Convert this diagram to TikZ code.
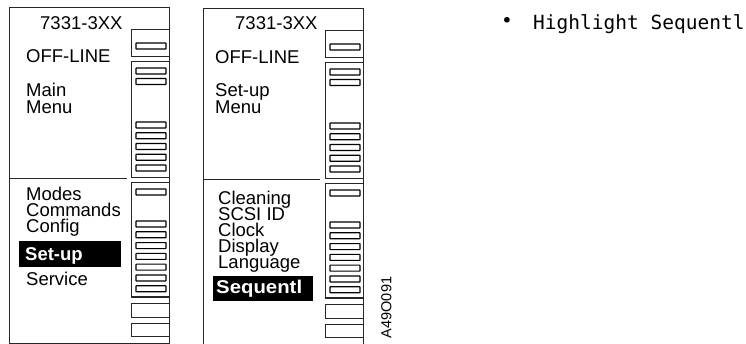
\documentclass[tikz,border=0pt]{standalone}
\usepackage{fontspec}
\setmainfont{Liberation Sans}
\newfontfamily\monofont{DejaVu Sans Mono}
\begin{document}
\begin{tikzpicture}[x=1pt,y=-1pt,
  outer/.style={draw=black!85, line width=1pt},
  frm/.style={draw=black!85, line width=1pt},
  btn/.style={draw=black, line width=1.1pt, rounded corners=0.4pt},
  lbl/.style={font=\fontsize{18.5}{17}\selectfont, anchor=base west, inner sep=0pt, text height=12pt, text depth=2.5pt},
  hl/.style={font=\fontsize{18.5}{17}\selectfont\bfseries, text=white, anchor=base west, inner sep=0pt, text height=12pt, text depth=2.5pt},
  note/.style={font=\monofont\fontsize{19.5}{20}\selectfont, anchor=base west, inner sep=0pt}]
\useasboundingbox (0,0) rectangle (746,344);
\fill[white] (0,0) rectangle (746,344);

% panel hardware (shared by both panels)
\foreach \dx/\dy/\dv in {0/0/127, 194/1/126}{
  \begin{scope}[shift={(\dx,\dy)}]
    \draw[outer] (9,8) rectangle (169,343.5);
    \draw[frm] (131,30) rectangle (169,57);
    \draw[btn] (136,43) rectangle (166,49);
    \draw[frm] (131,62) rectangle (169,178);
    \foreach \y in {68,78.5,122,132.75,143.5,154.25,165}
      \draw[btn] (136,\y) rectangle (166,\y+6);
    \draw[frm] (9,178.5) -- (\dv,178.5);
    \draw[frm] (131,183) rectangle (169,297);
    \foreach \y in {189,221,231.8,242.6,253.4,264.2,275,285.8}
      \draw[btn] (136,\y) rectangle (166,\y+6);
    \draw[frm] (169,303) -- (131,303) -- (131,317) -- (169,317);
    \draw[frm] (169,323) -- (131,323) -- (131,336) -- (169,336);
  \end{scope}
}

% panel 1 texts
\node[lbl] (p1title) at (40,29.5) {7331-3XX};
\node[lbl] (p1off) at (26,62.5) {OFF-LINE};
\node[lbl] (p1main) at (26,96.5) {Main};
\node[lbl] (p1menu) at (26,113.5) {Menu};
\node[lbl] (p1modes) at (26,200.5) {Modes};
\node[lbl] (p1cmds) at (26,216.5) {Commands};
\node[lbl] (p1config) at (26,232.5) {Config};
\fill[black] (19,241) rectangle (121,267);
\node[hl] (p1setup) at (25,260.5) {Set-up};
\node[lbl] (p1service) at (26,285.5) {Service};

% panel 2 texts
\node[lbl] (p2title) at (235,29.5) {7331-3XX};
\node[lbl] (p2off) at (215,63.5) {OFF-LINE};
\node[lbl] (p2setup) at (215,96.5) {Set-up};
\node[lbl] (p2menu) at (215,113.5) {Menu};
\node[lbl] (p2clean) at (218,204.3) {Cleaning};
\node[lbl] (p2scsi) at (218,220.4) {SCSI ID};
\node[lbl] (p2clock) at (218,236.5) {Clock};
\node[lbl] (p2disp) at (218,252.6) {Display};
\node[lbl] (p2lang) at (218,268.7) {Language};
\fill[black] (213,276) rectangle (313,301);
\node[hl, xscale=1.1] (p2seq) at (216,293.3) {Sequentl};

% figure id
\node[font=\fontsize{14.5}{15}\selectfont, rotate=90, inner sep=0pt] (figid) at (386.5,307.5) {A49O091};

% note
\node[note, anchor=center] (bullet) at (507,22) {•};
\node[note] (hint) at (533,29.5) {Highlight Sequentl};
\end{tikzpicture}
\end{document}
